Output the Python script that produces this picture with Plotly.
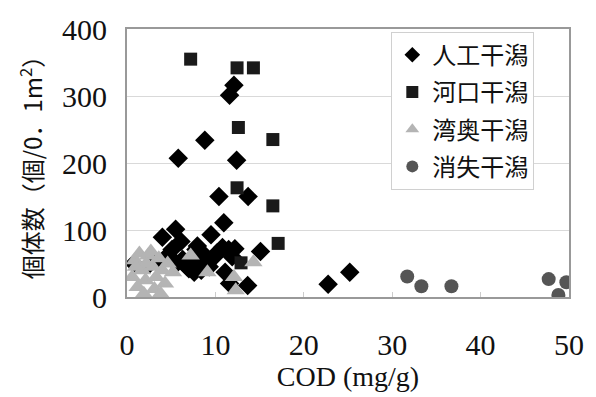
import plotly.graph_objects as go

# 人工干潟 (diamonds)
art_x = [12.1, 11.6, 8.8, 5.8, 12.4, 10.4, 13.7, 10.95, 5.5, 4.0, 9.5, 6.1, 15.1, 11.1, 13.65, 11.6,
         22.75, 25.2, 0.8, 2.5, 3.3, 5.1, 7.8, 8.5, 6.3, 7.96, 10.2, 9.8, 9.1, 8.1, 7.6, 7.0,
         10.8, 11.5, 4.6, 5.6, 6.8, 8.4, 9.3, 11.9, 12.2, 7.3]
art_y = [316, 301, 234, 207, 204, 150, 150, 111, 101, 89, 93, 83, 68, 37, 17, 20,
         19, 37, 50, 49, 53, 71, 71, 66, 56, 76, 66, 59, 52, 47, 37, 42,
         74, 71, 62, 50, 45, 40, 45, 60, 72, 58]

# 河口干潟 (squares)
est_x = [7.2, 12.45, 14.3, 12.6, 16.5, 12.45, 16.5, 17.1, 12.9]
est_y = [355, 342, 342, 253, 235, 163, 136, 80, 51]

# 湾奥干潟 (triangles)
bay_x = [0.6, 0.9, 1.2, 1.4, 1.7, 1.9, 2.1, 2.4, 2.7, 2.9, 3.1, 3.3, 3.6, 3.8, 4.0, 4.3, 4.6,
         2.2, 1.0, 5.2, 7.2, 9.1, 12.1, 12.3, 14.3]
bay_y = [30, 55, 15, 65, 40, 5, 25, 62, 68, 45, 12, 30, 58, 5, 40, 20, 50,
         50, 45, 37, 62, 37, 30, 10, 52]

# 消失干潟 (circles)
lost_x = [31.7, 33.3, 36.7, 47.7, 49.7, 48.8]
lost_y = [30.5, 16, 16, 26.7, 22, 3]

x_ticks = [0, 10, 20, 30, 40, 50]
y_ticks = [0, 100, 200, 300, 400]

fig = go.Figure()
fig.add_trace(go.Scatter(x=art_x, y=art_y, mode="markers", name="人工干潟", legendgroup="a",
                         marker=dict(symbol="diamond", size=15, color="#000000")))
fig.add_trace(go.Scatter(x=est_x, y=est_y, mode="markers", name="河口干潟", legendgroup="b",
                         marker=dict(symbol="square", size=13, color="#1a1a1a")))
fig.add_trace(go.Scatter(x=bay_x, y=bay_y, mode="markers", name="湾奥干潟", legendgroup="c",
                         marker=dict(symbol="triangle-up", size=16, color="#b4b4b4")))
fig.add_trace(go.Scatter(x=lost_x, y=lost_y, mode="markers", name="消失干潟", legendgroup="d",
                         marker=dict(symbol="circle", size=14, color="#555555")))

serif = "Liberation Serif, Times New Roman, serif"
cjk = "Noto Sans CJK JP, sans-serif"

fig.update_layout(
    width=596, height=397,
    margin=dict(l=127, r=24, t=22, b=100),
    paper_bgcolor="white", plot_bgcolor="white",
    showlegend=True,
    legend=dict(x=0.598, y=0.99, xanchor="left", yanchor="top",
                bgcolor="white", bordercolor="#d0d0d0", borderwidth=1,
                font=dict(family=cjk, size=24, color="#111111"),
                tracegroupgap=3, itemsizing="constant"),
    xaxis=dict(range=[0, 50], tickvals=x_ticks, showgrid=False, zeroline=False,
               showline=True, linecolor="#999999", linewidth=2, mirror=True,
               ticks="inside", ticklen=5, tickcolor="#cccccc",
               ticklabelstandoff=20,
               tickfont=dict(family=serif, size=30, color="#111111"),
               title=dict(text="COD (mg/g)", font=dict(family=serif, size=28, color="#111111"), standoff=2)),
    yaxis=dict(range=[0, 400], tickvals=y_ticks, showgrid=True, gridcolor="#d9d9d9", gridwidth=1,
               zeroline=False, showline=True, linecolor="#999999", linewidth=2, mirror=True,
               ticks="", ticklabelstandoff=12,
               tickfont=dict(family=serif, size=30, color="#111111")),
    annotations=[dict(text="個体数（個/0．1m<sup>2</sup>）", textangle=-90, xref="paper", yref="paper",
                      x=-0.218, y=0.505, xanchor="center", yanchor="middle", showarrow=False,
                      font=dict(family=cjk, size=24, color="#111111"))],
)

fig.write_html("out.html", config={"displayModeBar": False},
               post_script="document.body.style.margin='0';document.body.style.overflow='hidden';")
